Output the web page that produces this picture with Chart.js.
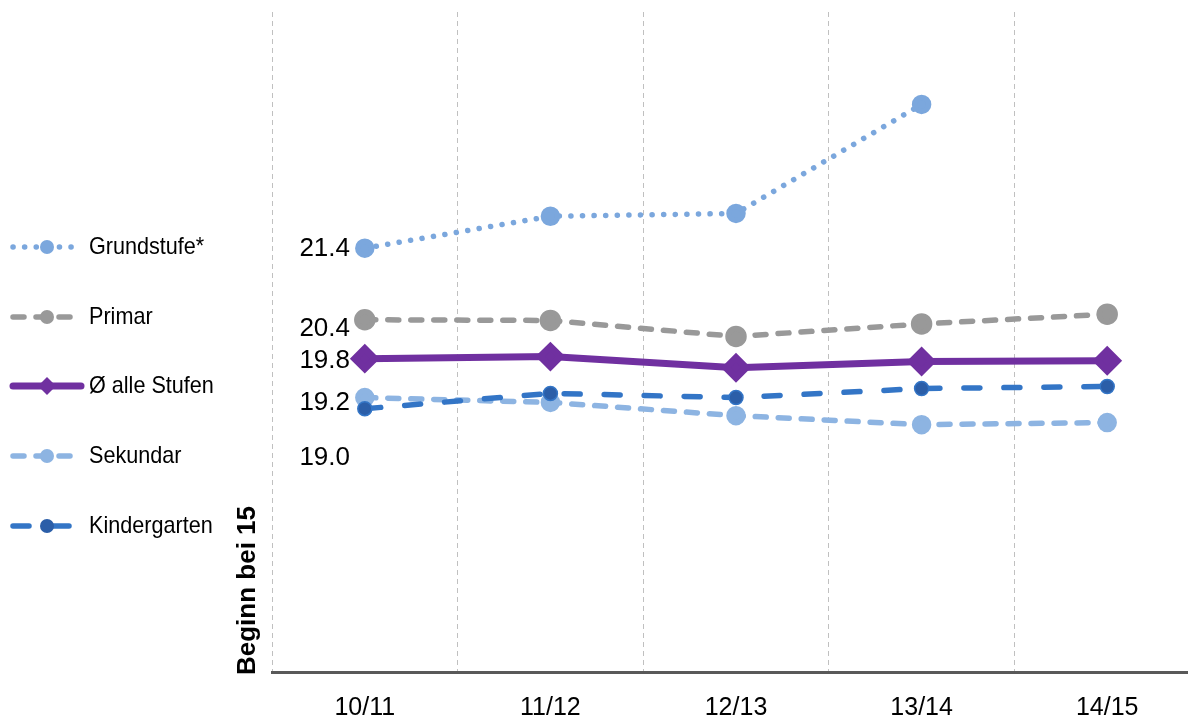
<!DOCTYPE html>
<html>
<head>
<meta charset="utf-8">
<script src="https://cdn.jsdelivr.net/npm/chart.js@4/dist/chart.umd.min.js"></script>
<style>
  html, body { margin: 0; padding: 0; background: #fff; overflow: hidden; }
  #chart { display: block; width: 1200px; height: 718px; }
</style>
</head>
<body>
<canvas id="chart" width="1200" height="718"></canvas>
<script>
// school years on the x axis
const years = ['10/11', '11/12', '12/13', '13/14', '14/15'];

// average class sizes
const grundstufe = [21.4, 21.86, 21.9, 23.47, null];
const primar = [20.37, 20.36, 20.13, 20.31, 20.45];
const average = [19.81, 19.84, 19.68, 19.77, 19.78];
const sekundar = [19.25, 19.18, 18.99, 18.86, 18.89];
const kindergarten = [19.09, 19.31, 19.25, 19.38, 19.41];

// labels printed next to the first point of each series
const firstLabels = ['21.4', '20.4', '19.8', '19.2', '19.0'];
const seriesNames = ['Grundstufe*', 'Primar', 'Ø alle Stufen', 'Sekundar', 'Kindergarten'];

const FONT = '"Liberation Sans", Arial, sans-serif';

// vertical nudge of the first-point labels, in px
const labelShift = [1, 9, 2, 5, 49];

const datasets = [
    {
        label: seriesNames[0], data: grundstufe,
        borderColor: '#7ba7dd', backgroundColor: '#7ba7dd',
        borderWidth: 5.5, borderDash: [0.1, 11.5], borderCapStyle: 'round',
        pointRadius: 7, pointStyle: 'circle', order: 3
    },
    {
        label: seriesNames[1], data: primar,
        borderColor: '#999999', backgroundColor: '#999999',
        borderWidth: 5.5, borderDash: [11, 12], borderCapStyle: 'round',
        pointRadius: 8, pointStyle: 'circle', order: 2
    },
    {
        label: seriesNames[2], data: average,
        borderColor: '#7030a0', backgroundColor: '#7030a0',
        borderWidth: 7, borderCapStyle: 'round',
        pointRadius: 10, pointStyle: 'rectRot', order: 0
    },
    {
        label: seriesNames[3], data: sekundar,
        borderColor: '#8db4e2', backgroundColor: '#8db4e2',
        borderWidth: 5.5, borderDash: [11, 12], borderCapStyle: 'round',
        pointRadius: 7, pointStyle: 'circle', order: 4
    },
    {
        label: seriesNames[4], data: kindergarten,
        borderColor: '#3375c6', backgroundColor: '#2b5ea8',
        pointBorderColor: '#3375c6', pointBorderWidth: 1.5,
        borderWidth: 5.5, borderDash: [16, 24], borderCapStyle: 'round',
        pointRadius: 7, pointStyle: 'circle', order: 1
    }
];

// legend on the left, first-point labels and the rotated axis note
const extras = {
    id: 'extras',
    afterDraw(chart) {
        const ctx = chart.ctx;
        const area = chart.chartArea;
        const legendY = [247, 317, 386, 456, 526];

        datasets.forEach((ds, i) => {
            const y = legendY[i];
            ctx.save();
            ctx.strokeStyle = ds.borderColor;
            ctx.lineWidth = ds.borderWidth;
            ctx.lineCap = 'round';
            ctx.setLineDash(ds.borderDash || []);
            ctx.beginPath();
            ctx.moveTo(13, y);
            ctx.lineTo(ds.borderDash ? 74 : 81, y);
            ctx.stroke();
            ctx.setLineDash([]);
            ctx.fillStyle = ds.backgroundColor;
            ctx.beginPath();
            if (ds.pointStyle === 'rectRot') {
                const r = 9;
                ctx.moveTo(47, y - r);
                ctx.lineTo(47 + r, y);
                ctx.lineTo(47, y + r);
                ctx.lineTo(47 - r, y);
                ctx.closePath();
            } else {
                ctx.arc(47, y, 7, 0, Math.PI * 2);
            }
            ctx.fill();

            ctx.fillStyle = '#000';
            ctx.font = '24px ' + FONT;
            ctx.textAlign = 'left';
            ctx.textBaseline = 'middle';
            ctx.save();
            ctx.translate(89, y);
            ctx.scale(0.9, 1);
            ctx.fillText(ds.label, 0, 0);
            ctx.restore();

            // value of the first point
            const pt = chart.getDatasetMeta(i).data[0];
            ctx.font = '26px ' + FONT;
            ctx.textAlign = 'right';
            ctx.fillText(firstLabels[i], 350, pt.y + labelShift[i]);
            ctx.restore();
        });

        ctx.save();
        ctx.translate(248, area.bottom + 3);
        ctx.rotate(-Math.PI / 2);
        ctx.font = 'bold 26px ' + FONT;
        ctx.fillStyle = '#000';
        ctx.textAlign = 'left';
        ctx.textBaseline = 'middle';
        ctx.fillText('Beginn bei 15', 0, 0);
        ctx.restore();
    }
};

new Chart(document.getElementById('chart'), {
    type: 'line',
    data: { labels: years, datasets: datasets },
    options: {
        responsive: false,
        animation: false,
        devicePixelRatio: 1,
        layout: { autoPadding: false, padding: { left: 272, top: 12, right: 0, bottom: 0 } },
        plugins: {
            legend: { display: false },
            tooltip: { enabled: false }
        },
        scales: {
            x: {
                offset: true,
                grid: {
                    offset: true,
                    color: '#c0c0c0',
                    lineWidth: 1,
                    drawTicks: false
                },
                border: { color: '#595959', width: 3, dash: [5, 4] },
                ticks: {
                    color: '#000',
                    padding: 21,
                    font: { family: FONT, size: 25 }
                },
                afterFit(scale) { scale.height = 46; }
            },
            y: {
                display: false,
                min: 15.3,
                max: 24.8
            }
        }
    },
    plugins: [extras]
});
</script>
</body>
</html>
